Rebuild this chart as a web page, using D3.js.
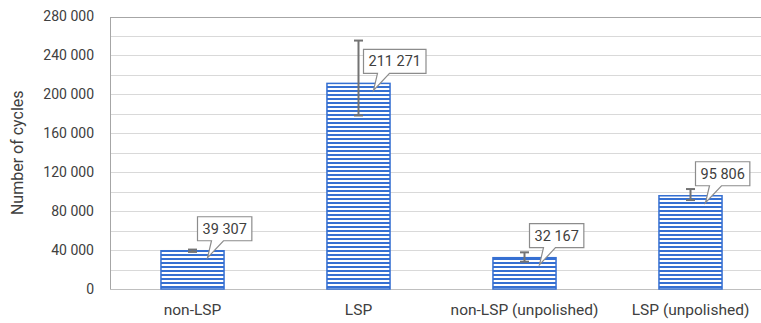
<!DOCTYPE html>
<html>
<head>
<meta charset="utf-8">
<script src="https://cdn.jsdelivr.net/npm/d3@7"></script>
<style>
  html, body { margin: 0; padding: 0; background: #fff; }
  svg { display: block; font-family: Roboto, "Liberation Sans", sans-serif; }
</style>
</head>
<body>
<svg id="chart" width="761" height="323"></svg>
<script>
const categories = ['non-LSP', 'LSP', 'non-LSP (unpolished)', 'LSP (unpolished)'];
const cycles = [39307, 211271, 32167, 95806];
const errPlus = [1200, 44000, 5500, 6900];
const errMinus = [1200, 33000, 4100, 4400];
const yTicks = [0, 40000, 80000, 120000, 160000, 200000, 240000, 280000];
const yGrid = d3.range(0, 280001, 20000);

const width = 761, height = 323;
const blue = '#3670d2';
const textColor = '#404040';

const svg = d3.select('#chart');
const fmt = d3.formatLocale({ decimal: ',', thousands: '\u00a0', grouping: [3], currency: ['', ''] }).format(',d');

const x = d3.scaleBand().domain(categories).range([109.5, 773.5]).paddingInner(0.62).paddingOuter(0.31);
const y = d3.scaleLinear().domain([0, 280000]).range([289, 16.5]);

// stripe pattern
const defs = svg.append('defs');
const pat = defs.append('pattern')
  .attr('id', 'stripes')
  .attr('patternUnits', 'userSpaceOnUse')
  .attr('width', 8)
  .attr('height', 4);
pat.append('rect').attr('width', 8).attr('height', 4).attr('fill', '#fff');
pat.append('rect').attr('y', 2).attr('width', 8).attr('height', 2).attr('fill', blue);

// gridlines
svg.append('g')
  .selectAll('line')
  .data(yGrid)
  .join('line')
  .attr('x1', 110).attr('x2', width)
  .attr('y1', d => Math.round(y(d)) + 0.5)
  .attr('y2', d => Math.round(y(d)) + 0.5)
  .attr('stroke', d => d === 280000 ? '#a6a6a6' : '#d9d9d9')
  .attr('stroke-width', 1);

// left border + baseline
svg.append('line')
  .attr('x1', 110.5).attr('x2', 110.5)
  .attr('y1', Math.round(y(280000)) + 0.5).attr('y2', Math.round(y(0)) + 0.5)
  .attr('stroke', '#a6a6a6');
svg.append('line')
  .attr('x1', 110).attr('x2', width)
  .attr('y1', Math.round(y(0)) + 0.5).attr('y2', Math.round(y(0)) + 0.5)
  .attr('stroke', '#bfbfbf');

// y axis labels
const yAxis = d3.axisLeft(y).tickValues(yTicks).tickFormat(fmt).tickSize(0).tickPadding(0);
const gy = svg.append('g').attr('transform', 'translate(94,0)').call(yAxis);
gy.select('.domain').remove();
gy.selectAll('text').attr('fill', textColor).attr('font-size', 14).attr('font-family', 'Roboto, sans-serif');

// y title
svg.append('text')
  .attr('transform', 'translate(23,' + ((y(0) + y(280000)) / 2) + ') rotate(-90)')
  .attr('text-anchor', 'middle')
  .attr('fill', textColor)
  .attr('font-size', 16)
  .text('Number of cycles');

// x axis labels
const xAxis = d3.axisBottom(x).tickSize(0).tickPadding(0);
const gx = svg.append('g').attr('transform', 'translate(0,304)').call(xAxis);
gx.select('.domain').remove();
gx.selectAll('text').attr('fill', textColor).attr('font-size', 15.5).attr('font-family', 'Roboto, sans-serif');

// bars
svg.append('g')
  .selectAll('rect')
  .data(categories)
  .join('rect')
  .attr('x', d => x(d))
  .attr('y', (d, i) => y(cycles[i]))
  .attr('width', x.bandwidth())
  .attr('height', (d, i) => y(0) - y(cycles[i]))
  .attr('fill', 'url(#stripes)')
  .attr('stroke', blue)
  .attr('stroke-width', 1.5);

// error bars
const eb = svg.append('g').attr('stroke', '#737373').attr('stroke-width', 2);
categories.forEach((c, i) => {
  const cx = x(c) + x.bandwidth() / 2;
  const top = y(cycles[i] + errPlus[i]);
  const bot = y(cycles[i] - errMinus[i]);
  eb.append('line').attr('x1', cx).attr('x2', cx).attr('y1', top).attr('y2', bot);
  eb.append('line').attr('x1', cx - 4.5).attr('x2', cx + 4.5).attr('y1', top).attr('y2', top);
  eb.append('line').attr('x1', cx - 4.5).attr('x2', cx + 4.5).attr('y1', bot).attr('y2', bot);
});

// data callouts
const callouts = svg.append('g');
categories.forEach((c, i) => {
  const cx = x(c) + x.bandwidth() / 2;
  const barTop = y(cycles[i]);
  const g = callouts.append('g');
  const t = g.append('text')
    .attr('font-size', 14.5)
    .attr('fill', textColor)
    .text(fmt(cycles[i]));
  const w = t.node().getComputedTextLength() + 10;
  const h = 24;
  const left = cx + 5;
  const bottom = barTop - 10;
  const topY = bottom - h;
  const tipX = cx + 15, tipY = barTop + 7;
  const b1 = left + 14, b2 = left + 26;
  const path = [
    [left, topY], [left + w, topY], [left + w, bottom], [b2, bottom],
    [tipX, tipY], [b1, bottom], [left, bottom]
  ];
  g.insert('path', 'text')
    .attr('d', d3.line()(path) + 'Z')
    .attr('fill', '#fff')
    .attr('stroke', '#8c8c8c')
    .attr('stroke-width', 1.2);
  t.attr('x', left + 5).attr('y', bottom - 7);
});
</script>
</body>
</html>
